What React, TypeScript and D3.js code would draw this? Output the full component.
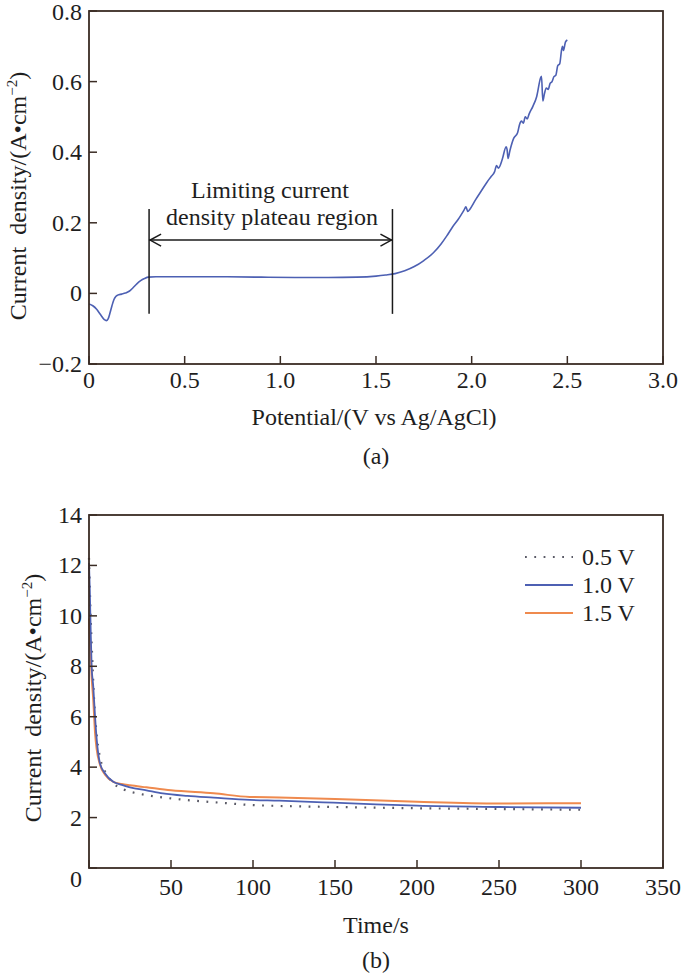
import React from "react";
import * as d3 from "d3";

// ---------- Data (a) ----------
const potentialV = [0.0, 0.02, 0.04, 0.06, 0.08, 0.09, 0.1, 0.11, 0.12, 0.13, 0.14, 0.15, 0.17, 0.19, 0.21, 0.23, 0.25, 0.27, 0.29, 0.31, 0.35, 0.5, 0.7, 0.9, 1.1, 1.25, 1.4, 1.5, 1.55, 1.6, 1.65, 1.7, 1.75, 1.8, 1.84, 1.87, 1.9, 1.93, 1.96, 1.97, 1.98, 1.99, 2.02, 2.05, 2.08, 2.1, 2.12, 2.13, 2.14, 2.16, 2.18, 2.185, 2.19, 2.2, 2.22, 2.24, 2.25, 2.26, 2.27, 2.28, 2.29, 2.3, 2.32, 2.34, 2.36, 2.365, 2.372, 2.38, 2.39, 2.4, 2.41, 2.42, 2.43, 2.44, 2.45, 2.46, 2.47, 2.475, 2.48, 2.49, 2.5];
const currentA = [-0.03, -0.035, -0.045, -0.06, -0.074, -0.077, -0.072, -0.055, -0.035, -0.018, -0.009, -0.005, -0.002, 0.001, 0.006, 0.016, 0.027, 0.036, 0.042, 0.046, 0.047, 0.047, 0.047, 0.046, 0.045, 0.045, 0.046, 0.049, 0.052, 0.056, 0.064, 0.076, 0.093, 0.115, 0.14, 0.163, 0.188, 0.21, 0.236, 0.245, 0.232, 0.238, 0.265, 0.29, 0.315, 0.33, 0.345, 0.362, 0.355, 0.38, 0.415, 0.408, 0.382, 0.405, 0.44, 0.455, 0.478, 0.488, 0.482, 0.5, 0.494, 0.508, 0.53, 0.558, 0.61, 0.615, 0.545, 0.565, 0.582, 0.578, 0.595, 0.6, 0.614, 0.618, 0.645, 0.65, 0.69, 0.7, 0.688, 0.712, 0.718];
const xTicksA = [0, 0.5, 1.0, 1.5, 2.0, 2.5, 3.0];
const xTickLabelsA = ["0", "0.5", "1.0", "1.5", "2.0", "2.5", "3.0"];
const yTicksA = [-0.2, 0, 0.2, 0.4, 0.6, 0.8];
const yTickLabelsA = ["\u22120.2", "0", "0.2", "0.4", "0.6", "0.8"];
const plateauStartV = 0.314;
const plateauEndV = 1.586;
const plateauLineTop = 0.239;
const plateauLineBottom = -0.058;
const plateauArrowY = 0.151;
const annotationLines = ["Limiting current", "density plateau region"];

// ---------- Data (b) ----------
const time05 = [0, 1, 2, 3, 4, 5, 7, 10, 15, 21, 31, 45, 55.5, 70, 86, 98, 111, 150, 200, 250, 300];
const cur05 = [12.3, 10.0, 8.3, 6.8, 5.8, 5.1, 4.3, 3.8, 3.35, 3.12, 2.94, 2.8, 2.72, 2.64, 2.56, 2.5, 2.47, 2.42, 2.37, 2.34, 2.31];
const time10 = [0, 0.5, 1, 1.6, 2.6, 3.7, 4.7, 6.7, 9.8, 14.8, 20, 25, 35, 45, 60, 76, 98, 116, 149, 175, 200, 250, 300];
const cur10 = [12.1, 11.0, 9.5, 8.0, 7.2, 6.0, 5.1, 4.15, 3.75, 3.42, 3.3, 3.2, 3.08, 2.96, 2.86, 2.79, 2.7, 2.67, 2.59, 2.52, 2.47, 2.42, 2.39];
const time15 = [0, 0.5, 1, 1.6, 2.6, 3.7, 4.7, 6.7, 9.8, 14.8, 20, 25, 35, 50, 76, 98, 116, 150, 200, 250, 300];
const cur15 = [9.9, 9.2, 8.5, 7.6, 6.67, 5.35, 4.7, 4.1, 3.7, 3.42, 3.33, 3.28, 3.2, 3.08, 2.96, 2.82, 2.8, 2.74, 2.63, 2.56, 2.57];
const seriesNames = ["0.5 V", "1.0 V", "1.5 V"];
const xTicksB = [0, 50, 100, 150, 200, 250, 300, 350];
const yTicksB = [0, 2, 4, 6, 8, 10, 12, 14];

const FONT = "'Liberation Serif', 'Times New Roman', serif";
const FRAME = "#3a2c24";
const BLUE = "#4d60b3";
const ORANGE = "#ef8a4e";
const DOTC = "#5a5a66";
const FS = 24;
const TXT = "#1e1e1e";

export default function App() {
  // panel a
  const xA = d3.scaleLinear().domain([0, 3]).range([89, 663]);
  const yA = d3.scaleLinear().domain([-0.2, 0.8]).range([364, 11]);
  const lineA = d3
    .line<number>()
    .x((_, i) => xA(potentialV[i]))
    .y((d) => yA(d))
    .curve(d3.curveMonotoneX);

  // panel b
  const xB = d3.scaleLinear().domain([0, 350]).range([89, 663]);
  const yB = d3.scaleLinear().domain([0, 14]).range([868, 515]);
  const mkLine = (t: number[]) =>
    d3
      .line<number>()
      .x((_, i) => xB(t[i]))
      .y((d) => yB(d))
      .curve(d3.curveMonotoneX);

  const tick = 8;
  const sx = xA(plateauStartV);
  const ex = xA(plateauEndV);
  const ay = yA(plateauArrowY);

  const yLabel = (
    <>
      {"Current  density/(A\u2022cm"}
      <tspan dy={-9} fontSize={15}>−2</tspan>
      <tspan dy={9}>)</tspan>
    </>
  );

  return (
    <svg width={685} height={980} style={{ display: "block", position: "absolute", left: 0, top: 0, background: "#fff" }} fontFamily={FONT}>
      {/* ===== Panel (a) ===== */}
      <g>
        <path d={lineA(currentA) || ""} fill="none" stroke={BLUE} strokeWidth={1.6} />
        {/* annotation */}
        <g stroke="#1a1a1a" strokeWidth={1.5} fill="none">
          <line x1={sx} x2={sx} y1={yA(plateauLineTop)} y2={yA(plateauLineBottom)} />
          <line x1={ex} x2={ex} y1={yA(plateauLineTop)} y2={yA(plateauLineBottom)} />
          <line x1={sx} x2={ex} y1={ay} y2={ay} />
          <polyline points={`${sx + 12},${ay - 6} ${sx + 1},${ay} ${sx + 12},${ay + 6}`} />
          <polyline points={`${ex - 12},${ay - 6} ${ex - 1},${ay} ${ex - 12},${ay + 6}`} />
        </g>
        <text x={270} y={198} textAnchor="middle" fontSize={FS} fill={TXT}>{annotationLines[0]}</text>
        <text x={272} y={225} textAnchor="middle" fontSize={FS} fill={TXT}>{annotationLines[1]}</text>
        {/* ticks */}
        <g stroke={FRAME} strokeWidth={1.5}>
          {xTicksA.map((t) => (
            <line key={"xa" + t} x1={xA(t)} x2={xA(t)} y1={yA(-0.2)} y2={yA(-0.2) - tick} />
          ))}
          {yTicksA.map((t) => (
            <line key={"ya" + t} x1={xA(0)} x2={xA(0) + tick} y1={yA(t)} y2={yA(t)} />
          ))}
        </g>
        <rect x={xA(0)} y={yA(0.8)} width={xA(3) - xA(0)} height={yA(-0.2) - yA(0.8)} fill="none" stroke={FRAME} strokeWidth={1.8} />
        {xTicksA.map((t, i) => (
          <text key={"xal" + t} x={xA(t)} y={388} textAnchor="middle" fontSize={FS} fill={TXT}>{xTickLabelsA[i]}</text>
        ))}
        {yTicksA.map((t, i) => (
          <text key={"yal" + t} x={82} y={Math.max(yA(t) + 8, 20)} textAnchor="end" fontSize={FS} fill={TXT}>{yTickLabelsA[i]}</text>
        ))}
        <text x={374} y={425} textAnchor="middle" fontSize={FS} fill={TXT}>{"Potential/(V vs Ag/AgCl)"}</text>
        <text x={376} y={464} textAnchor="middle" fontSize={FS} fill={TXT}>(a)</text>
        <text transform={`translate(26,196) rotate(-90)`} textAnchor="middle" fontSize={FS} fill={TXT} style={{ whiteSpace: "pre" }}>
          {yLabel}
        </text>
      </g>

      {/* ===== Panel (b) ===== */}
      <g>
        <path d={mkLine(time05)(cur05) || ""} fill="none" stroke={DOTC} strokeWidth={2.2} strokeDasharray="1.8,7.5" />
        <path d={mkLine(time15)(cur15) || ""} fill="none" stroke={ORANGE} strokeWidth={2} />
        <path d={mkLine(time10)(cur10) || ""} fill="none" stroke={BLUE} strokeWidth={1.8} />
        <g stroke={FRAME} strokeWidth={1.5}>
          {xTicksB.map((t) => (
            <line key={"xb" + t} x1={xB(t)} x2={xB(t)} y1={yB(0)} y2={yB(0) - tick} />
          ))}
          {yTicksB.map((t) => (
            <line key={"yb" + t} x1={xB(0)} x2={xB(0) + tick} y1={yB(t)} y2={yB(t)} />
          ))}
        </g>
        <rect x={xB(0)} y={yB(14)} width={xB(350) - xB(0)} height={yB(0) - yB(14)} fill="none" stroke={FRAME} strokeWidth={1.8} />
        {xTicksB.filter((t) => t > 0).map((t) => (
          <text key={"xbl" + t} x={xB(t)} y={895} textAnchor="middle" fontSize={FS} fill={TXT}>{String(t)}</text>
        ))}
        {yTicksB.map((t) => (
          <text key={"ybl" + t} x={82} y={t === 0 ? 887 : yB(t) + 8} textAnchor="end" fontSize={FS} fill={TXT}>{String(t)}</text>
        ))}
        <text x={376} y={933} textAnchor="middle" fontSize={FS} fill={TXT}>Time/s</text>
        <text x={376} y={968} textAnchor="middle" fontSize={FS} fill={TXT}>(b)</text>
        <text transform={`translate(41,698) rotate(-90)`} textAnchor="middle" fontSize={FS} fill={TXT} style={{ whiteSpace: "pre" }}>
          {yLabel}
        </text>
        {/* legend */}
        {seriesNames.map((name, i) => {
          const ly = 557 + i * 28;
          const style =
            i === 0
              ? { stroke: DOTC, strokeWidth: 2.2, strokeDasharray: "1.8,7.5" }
              : { stroke: i === 1 ? BLUE : ORANGE, strokeWidth: i === 1 ? 1.8 : 2 };
          return (
            <g key={name}>
              <line x1={525} x2={573} y1={ly} y2={ly} {...style} />
              <text x={582} y={ly + 8} fontSize={FS} fill={TXT}>{name}</text>
            </g>
          );
        })}
      </g>
    </svg>
  );
}
